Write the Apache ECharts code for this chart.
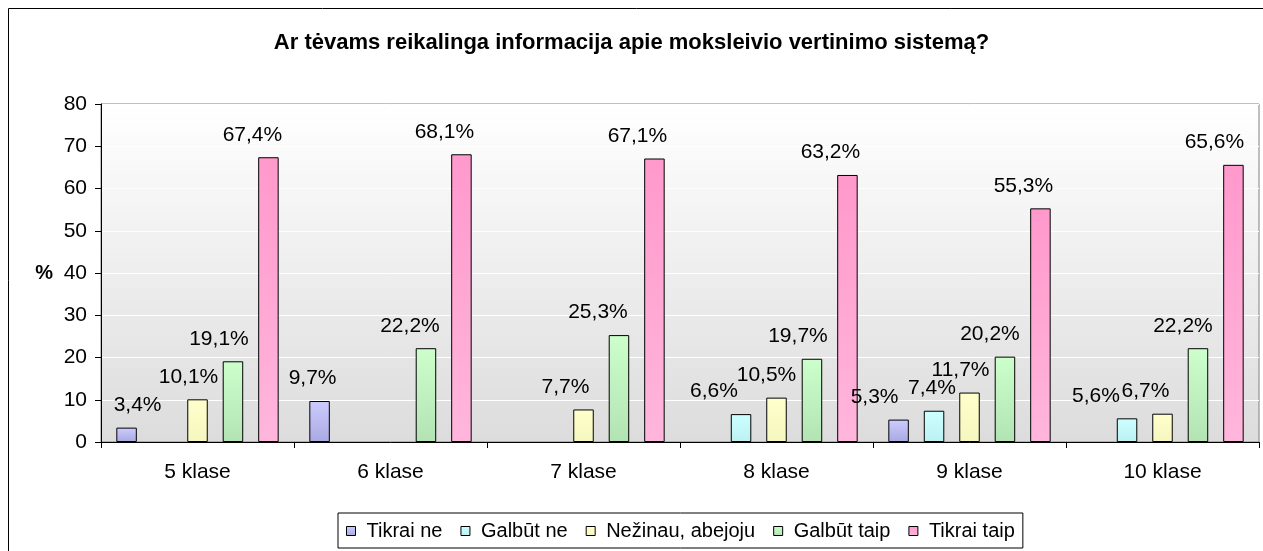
<!DOCTYPE html>
<html lang="lt">
<head>
<meta charset="UTF-8">
<title>Ar tėvams reikalinga informacija</title>
<script src="https://cdn.jsdelivr.net/npm/echarts@6/dist/echarts.min.js"></script>
<style>
  html, body { margin: 0; padding: 0; background: #fff; }
  #chart { width: 1263px; height: 551px; }
</style>
</head>
<body>
<div id="chart"></div>
<script>
// duomenys
const categories = ['5 klase', '6 klase', '7 klase', '8 klase', '9 klase', '10 klase'];
const seriesNames = ['Tikrai ne', 'Galbūt ne', 'Nežinau, abejoju', 'Galbūt taip', 'Tikrai taip'];
const tikraiNe   = [3.4, 9.7, null, null, 5.3, null];
const galbutNe   = [null, null, null, 6.6, 7.4, 5.6];
const nezinau    = [10.1, null, 7.7, 10.5, 11.7, 6.7];
const galbutTaip = [19.1, 22.2, 25.3, 19.7, 20.2, 22.2];
const tikraiTaip = [67.4, 68.1, 67.1, 63.2, 55.3, 65.6];
const yTicks = { min: 0, max: 80, interval: 10 };

const values = [tikraiNe, galbutNe, nezinau, galbutTaip, tikraiTaip];

// spalvos (virsus, apacia)
const colors = [
  ['#ccccff', '#a9a9e2'],
  ['#ccffff', '#bdf0f0'],
  ['#ffffcc', '#f6f6bf'],
  ['#ccffcc', '#b3e3b3'],
  ['#ff99cc', '#ffb6dc']
];
// etikeciu horizontalus pastumimas (px), kaip originale
const labelNudge = [
  [11, -7, 0, 0, -24, 0],
  [0, 0, 0, -27, -2, -31],
  [-9, 0, -18, -10, -9, -17],
  [-14, -16, -21, -14, -15, -15],
  [-16, -17, -17, -17, -17, -19]
];

const font = "'Liberation Sans', Arial, sans-serif";

const chart = echarts.init(document.getElementById('chart'));

chart.setOption({
  animation: false,
  textStyle: { fontFamily: font },
  graphic: [{
    type: 'rect',
    shape: { x: 8.5, y: 8.5, width: 1300, height: 600 },
    style: { fill: 'none', stroke: '#000', lineWidth: 1 },
    z: -10
  }],
  title: {
    text: 'Ar tėvams reikalinga informacija apie moksleivio vertinimo sistemą?',
    left: 'center',
    top: 27,
    textStyle: { fontFamily: font, fontSize: 22, fontWeight: 'bold', color: '#000' }
  },
  legend: {
    left: 338,
    top: 513,
    data: seriesNames,
    padding: [8, 8, 7, 8],
    itemGap: 18,
    itemWidth: 9,
    itemHeight: 9,
    icon: 'rect',
    borderColor: '#000',
    borderWidth: 1,
    borderRadius: 0,
    textStyle: { fontFamily: font, fontSize: 20, color: '#000', padding: [0, 0, 0, 6] },
    itemStyle: { borderColor: '#000', borderWidth: 1 }
  },
  grid: {
    left: 101,
    right: 4,
    top: 104,
    bottom: 109,
    show: true,
    borderColor: '#808080',
    borderWidth: 1,
    outerBoundsMode: 'none',
    backgroundColor: {
      type: 'linear', x: 0, y: 0, x2: 0, y2: 1,
      colorStops: [{ offset: 0, color: '#ffffff' }, { offset: 1, color: '#dcdcdc' }]
    }
  },
  xAxis: {
    type: 'category',
    data: categories,
    axisLine: { lineStyle: { color: '#000', width: 1 } },
    axisTick: { show: true, length: 6, lineStyle: { color: '#000' } },
    axisLabel: { fontFamily: font, fontSize: 21, color: '#000', margin: 20 }
  },
  yAxis: {
    type: 'value',
    min: yTicks.min,
    max: yTicks.max,
    interval: yTicks.interval,
    name: '%',
    nameLocation: 'middle',
    nameRotate: 0,
    nameGap: 48,
    nameTextStyle: { fontFamily: font, fontSize: 20, fontWeight: 'bold', color: '#000' },
    axisLine: { show: true, lineStyle: { color: '#000', width: 1 } },
    axisTick: { show: true, length: 6, lineStyle: { color: '#000' } },
    axisLabel: { fontFamily: font, fontSize: 21, color: '#000', margin: 14 },
    splitLine: { show: true, lineStyle: { color: '#ffffff', width: 1 } }
  },
  series: seriesNames.map((name, i) => ({
    name: name,
    type: 'bar',
    data: values[i].map((v, j) => ({
      value: v,
      label: { offset: [labelNudge[i][j], 0] }
    })),
    barWidth: 20.5,
    barGap: '73%',
    itemStyle: {
      color: {
        type: 'linear', x: 0, y: 0, x2: 0, y2: 1,
        colorStops: [{ offset: 0, color: colors[i][0] }, { offset: 1, color: colors[i][1] }]
      },
      borderColor: '#000',
      borderWidth: 1
    },
    label: {
      show: true,
      position: 'top',
      distance: 12,
      fontFamily: font,
      fontSize: 21,
      color: '#000',
      formatter: p => p.value.toFixed(1).replace('.', ',') + '%'
    }
  }))
});
</script>
</body>
</html>
